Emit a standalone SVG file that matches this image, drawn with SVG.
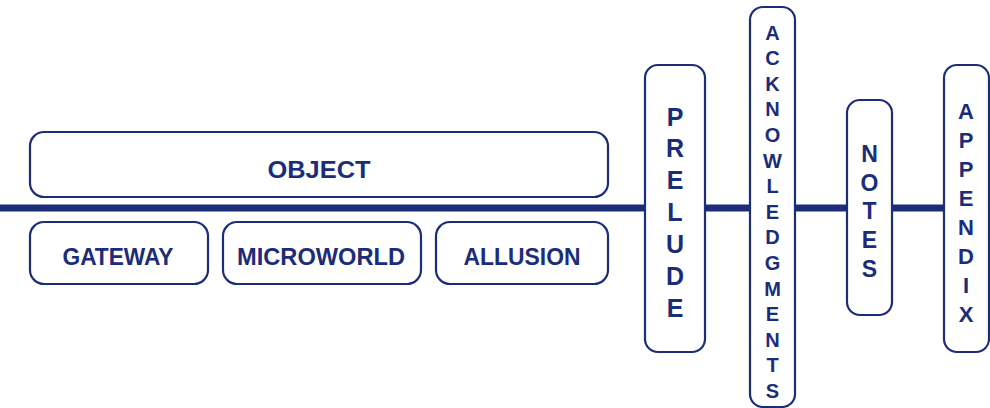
<svg xmlns="http://www.w3.org/2000/svg" width="990" height="408" viewBox="0 0 990 408">
<style>
.box{fill:#fff;stroke:#1b2d79;stroke-width:2.2}
.t{font-family:"Liberation Sans",Arial,sans-serif;font-weight:bold;fill:#1b2d79;text-anchor:middle}
.line{stroke:#1b2d79;stroke-width:7;fill:none}
</style>
<rect width="990" height="408" fill="#fff"/>
<g id="connectors">
<line class="line" x1="0" y1="208" x2="946" y2="208"/>
</g>
<g id="object">
<rect class="box" x="30" y="132" width="578" height="65" rx="14"/>
<text class="t" x="319" y="178" font-size="24" textLength="103" lengthAdjust="spacingAndGlyphs">OBJECT</text>
</g>
<g id="gateway">
<rect class="box" x="30" y="222" width="178" height="62" rx="14"/>
<text class="t" x="118" y="265" font-size="23" textLength="111" lengthAdjust="spacingAndGlyphs">GATEWAY</text>
</g>
<g id="microworld">
<rect class="box" x="223" y="222" width="198" height="62" rx="14"/>
<text class="t" x="321" y="265" font-size="23" textLength="168" lengthAdjust="spacingAndGlyphs">MICROWORLD</text>
</g>
<g id="allusion">
<rect class="box" x="436" y="222" width="172" height="62" rx="14"/>
<text class="t" x="522" y="265" font-size="23" textLength="117" lengthAdjust="spacingAndGlyphs">ALLUSION</text>
</g>
<g id="prelude">
<rect class="box" x="645" y="65" width="60" height="287" rx="13"/>
<text class="t" font-size="25">
<tspan x="675" y="125.5">P</tspan><tspan x="675" y="157.4">R</tspan><tspan x="675" y="189.3">E</tspan><tspan x="675" y="221.2">L</tspan><tspan x="675" y="253.1">U</tspan><tspan x="675" y="285">D</tspan><tspan x="675" y="317">E</tspan>
</text>
</g>
<g id="acknowledgments">
<rect class="box" x="750" y="7" width="45" height="400" rx="13"/>
<text class="t" font-size="20">
<tspan x="772.5" y="39.5">A</tspan><tspan x="772.5" y="65.1">C</tspan><tspan x="772.5" y="90.7">K</tspan><tspan x="772.5" y="116.3">N</tspan><tspan x="772.5" y="141.9">O</tspan><tspan x="772.5" y="167.5">W</tspan><tspan x="772.5" y="193.1">L</tspan><tspan x="772.5" y="218.7">E</tspan><tspan x="772.5" y="244.3">D</tspan><tspan x="772.5" y="269.9">G</tspan><tspan x="772.5" y="295.5">M</tspan><tspan x="772.5" y="321.1">E</tspan><tspan x="772.5" y="346.7">N</tspan><tspan x="772.5" y="372.3">T</tspan><tspan x="772.5" y="398">S</tspan>
</text>
</g>
<g id="notes">
<rect class="box" x="847" y="100" width="45" height="215" rx="13"/>
<text class="t" font-size="23">
<tspan x="869.5" y="161.7">N</tspan><tspan x="869.5" y="190.5">O</tspan><tspan x="869.5" y="219.2">T</tspan><tspan x="869.5" y="248">E</tspan><tspan x="869.5" y="276.7">S</tspan>
</text>
</g>
<g id="appendix">
<rect class="box" x="944" y="65" width="45" height="287" rx="13"/>
<text class="t" font-size="22">
<tspan x="966" y="119">A</tspan><tspan x="966" y="148">P</tspan><tspan x="966" y="177">P</tspan><tspan x="966" y="206">E</tspan><tspan x="966" y="235">N</tspan><tspan x="966" y="264">D</tspan><tspan x="966" y="293">I</tspan><tspan x="966" y="322">X</tspan>
</text>
</g>
</svg>
